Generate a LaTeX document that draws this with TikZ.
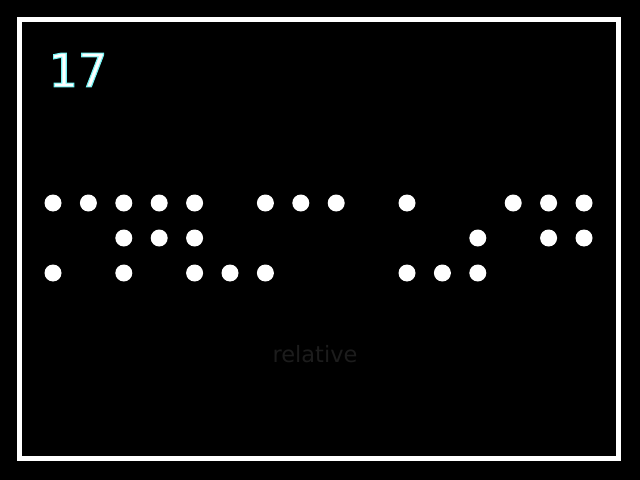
\documentclass[tikz,border=0pt]{standalone}
\usepackage{fontspec}
\setmainfont{DejaVu Sans}
\definecolor{faint}{rgb}{0.11,0.11,0.11}
\tikzset{%
  dot/.style={circle,inner sep=0pt,minimum size=17*0.025cm,fill=#1},
  dot/.default=white,
  frame/.style={draw=white,line width=5*0.025cm}
}
% white digits with a cyan rim
\NewDocumentCommand\glowtext{m}{%
  \special{pdf:code q 2 Tr 0.8 w 0.45 0.95 0.95 RG}#1\special{pdf:code Q}%
}
\NewDocumentCommand\dotrow{mm}{%
  \foreach \k in {#2} {
    \node[dot] (d#1-\k) at ({53+35.4*\k},{203+35*(#1-1)}) {};
  }
}
\begin{document}
\begin{tikzpicture}[x=0.025cm,y=-0.025cm]
  % Background
  \fill[black] (0,0) rectangle (640,480);
  \useasboundingbox (0,0) rectangle (640,480);
  \draw[frame] (19.5,19.5) rectangle (618.5,458);
  % Counter
  \node[white,font=\fontsize{33}{33}\selectfont] (count) at (78,70) {\glowtext{17}};
  % Dots
  \dotrow{1}{0,1,2,3,4,6,7,8,10,13,14,15}
  \dotrow{2}{2,3,4,12,14,15}
  \dotrow{3}{0,2,4,5,6,10,11,12}
  % Caption
  \node[faint,font=\fontsize{16}{16}\selectfont] (caption) at (315,354) {relative};
\end{tikzpicture}
\end{document}
